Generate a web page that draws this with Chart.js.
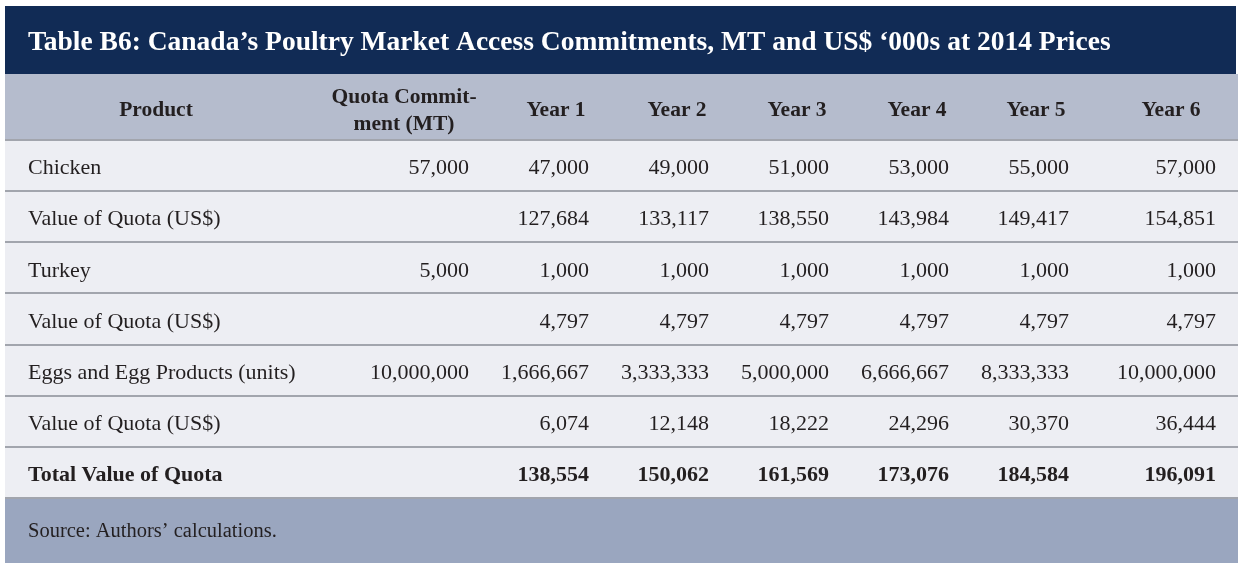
<!DOCTYPE html>
<html>
<head>
<meta charset="utf-8">
<title>Table B6</title>
<script src="https://cdn.jsdelivr.net/npm/chart.js@4.4.0/dist/chart.umd.min.js"></script>
<style>
html,body{margin:0;padding:0;background:#fff}
#wrap{width:1244px;height:572px;position:relative}
</style>
</head>
<body>
<div id="wrap"><canvas id="table"></canvas></div>
<script>
// table content
const TITLE="Table B6: Canada’s Poultry Market Access Commitments, MT and US$ ‘000s at 2014 Prices"
const SOURCE="Source: Authors’ calculations."
const headers=["Product",["Quota Commit-","ment (MT)"],"Year 1","Year 2","Year 3","Year 4","Year 5","Year 6"]
const products=["Chicken","Value of Quota (US$)","Turkey","Value of Quota (US$)","Eggs and Egg Products (units)","Value of Quota (US$)","Total Value of Quota"]
const quota=[57000,null,5000,null,10000000,null,null]
const year1=[47000,127684,1000,4797,1666667,6074,138554]
const year2=[49000,133117,1000,4797,3333333,12148,150062]
const year3=[51000,138550,1000,4797,5000000,18222,161569]
const year4=[53000,143984,1000,4797,6666667,24296,173076]
const year5=[55000,149417,1000,4797,8333333,30370,184584]
const year6=[57000,154851,1000,4797,10000000,36444,196091]
const totalRow=6

// layout (x in table units from the left text margin)
const headerX=[128,376,528,649,769,889,1008,1143]
const cellRight=[441,561,681,801,921,1041,1188]
const TABLE_W=1188
const TEXT_DY=3

const FONT="'Liberation Serif','Times New Roman',serif"
const INK="#231f20"
const NAVY="#112b55"
const HEAD_BG="#b5bccd"
const BODY_BG="#edeef3"
const FOOT_BG="#9aa6bf"
const RULE="#a2a5ad"
const PANEL_L=5, PANEL_R=1238

const valueCols=[quota,year1,year2,year3,year4,year5,year6]
const fmt=v=>v.toLocaleString("en-US")

const datasets=valueCols.map((col,c)=>({
label:headers[c+1].toString(),
data:col.map((v,i)=>({x:cellRight[c],y:i,v:v})),
pointRadius:0,
pointHoverRadius:0
}))

const tablePlugin={
id:"tableBg",
beforeDraw(chart){
const {ctx,chartArea}=chart
const t=chart.titleBlock
const x=chart.scales.x
const y=chart.scales.y
ctx.save()
ctx.fillStyle=NAVY
ctx.fillRect(PANEL_L,6,PANEL_R-PANEL_L-2,t.bottom-6)
ctx.fillStyle=HEAD_BG
ctx.fillRect(PANEL_L,x.top,PANEL_R-PANEL_L,x.bottom-x.top)
ctx.fillStyle=BODY_BG
ctx.fillRect(PANEL_L,chartArea.top,PANEL_R-PANEL_L,chartArea.bottom-chartArea.top)
ctx.fillStyle=FOOT_BG
ctx.fillRect(PANEL_L,chartArea.bottom,PANEL_R-PANEL_L,65)
// rules
ctx.fillStyle=RULE
ctx.fillRect(PANEL_L,chartArea.top-1,PANEL_R-PANEL_L,2)
for(let i=0;i<products.length;i++){
const py=Math.round(y.getPixelForValue(i+0.5))
ctx.fillRect(PANEL_L,py-1,PANEL_R-PANEL_L,2)
}
ctx.restore()
},
afterDatasetsDraw(chart){
const ctx=chart.ctx
ctx.save()
ctx.fillStyle=INK
ctx.textAlign="right"
ctx.textBaseline="middle"
chart.data.datasets.forEach((ds,d)=>{
const meta=chart.getDatasetMeta(d)
meta.data.forEach((pt,i)=>{
const v=ds.data[i].v
if(v===null)return
ctx.font=(i===totalRow?"bold ":"")+"22px "+FONT
ctx.fillText(fmt(v),pt.x,pt.y+TEXT_DY)
})
})
ctx.restore()
}
}

new Chart(document.getElementById("table"),{
type:"scatter",
data:{datasets:datasets},
plugins:[tablePlugin],
options:{
responsive:true,
maintainAspectRatio:false,
animation:false,
events:[],
layout:{padding:{left:28,right:28,top:0,bottom:0}},
plugins:{
legend:{display:false},
tooltip:{enabled:false},
title:{
display:true,
text:TITLE,
align:"start",
color:"#ffffff",
font:{family:FONT,size:27.5,weight:"bold",lineHeight:1},
padding:{top:29,bottom:17.5}
},
subtitle:{
display:true,
position:"bottom",
text:SOURCE,
align:"start",
color:INK,
font:{family:FONT,size:20.5,weight:"normal",lineHeight:1},
padding:{top:23,bottom:30.5}
}
},
scales:{
x:{
type:"linear",
position:"top",
min:0,
max:TABLE_W,
afterBuildTicks:axis=>{axis.ticks=headerX.map(v=>({value:v}))},
afterFit:axis=>{axis.height=66},
grid:{display:false,drawTicks:false},
border:{display:false},
ticks:{
autoSkip:false,
maxRotation:0,
padding:16,
crossAlign:"center",
color:INK,
font:{family:FONT,size:21.5,weight:"bold",lineHeight:1.25},
callback:(v,i)=>headers[i]
}
},
y:{
type:"linear",
reverse:true,
min:-0.5,
max:products.length-0.5,
afterBuildTicks:axis=>{axis.ticks=products.map((p,i)=>({value:i}))},
grid:{display:false,drawTicks:false},
border:{display:false},
ticks:{
autoSkip:false,
mirror:true,
padding:0,
labelOffset:TEXT_DY,
color:INK,
font:c=>({family:FONT,size:22,weight:c.index===totalRow?"bold":"normal"}),
callback:(v,i)=>products[i]
}
}
}
}
})
</script>
</body>
</html>
